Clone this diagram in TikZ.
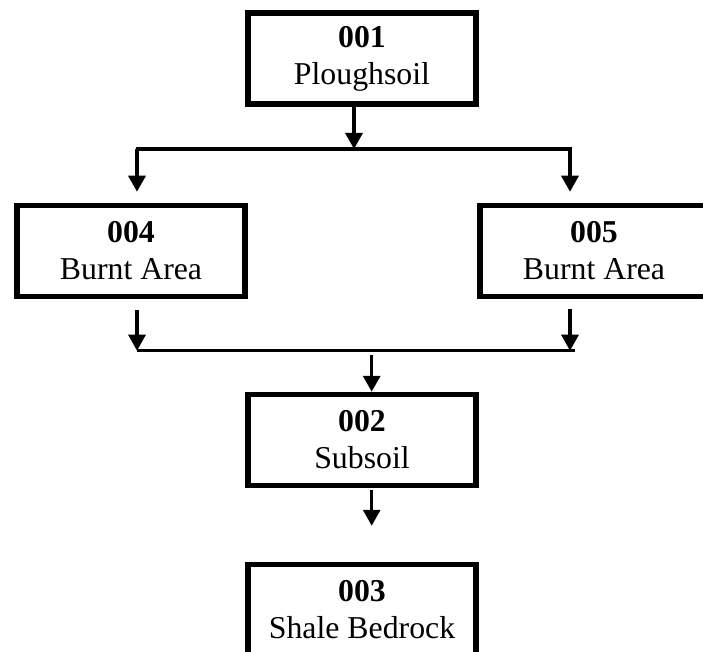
\documentclass[tikz,border=0pt]{standalone}
\usepackage{fontspec}
\setmainfont{Liberation Serif}
\usetikzlibrary{arrows.meta}

\begin{document}
\begin{tikzpicture}[x=1pt, y=1pt,
    unitbox/.style={draw, line width=5.5pt, minimum width=228pt, minimum height=91pt,
        inner sep=0pt, align=center, font=\fontsize{31.8}{37}\selectfont},
    flowarrow/.style={line width=3.2pt, -{Triangle[width=17pt,length=16pt]}},
    joinline/.style={line width=3.2pt}]
    \useasboundingbox (0,0) rectangle (703,-652);

    % the contexts
    \node[unitbox] (u001) at (362,-58.5) {\textbf{001}\\Ploughsoil};
    \node[unitbox] (u004) at (131,-251) {\textbf{004}\\Burnt Area};
    \node[unitbox] (u005) at (594,-251) {\textbf{005}\\Burnt Area};
    \node[unitbox] (u002) at (362,-440) {\textbf{002}\\Subsoil};
    \node[unitbox] (u003) at (362,-610) {\textbf{003}\\Shale Bedrock};

    % split below 001
    \coordinate (split) at (354,-149);
    \coordinate (splitL) at (135.5,-149);
    \coordinate (splitR) at (571.5,-149);
    \coordinate (toL) at (137,-149);
    \coordinate (toR) at (570,-149);
    \draw[joinline] (splitL) -- (splitR);
    \draw[flowarrow] (u001.south -| split) -- (split);
    \draw[flowarrow, shorten >=11pt] (toL) -- (toL |- u004.north);
    \draw[flowarrow, shorten >=11pt] (toR) -- (toR |- u005.north);

    % join above 002
    \coordinate (joinL) at (137,-350.7);
    \coordinate (joinR) at (575,-350.7);
    \coordinate (fromR) at (570,-350.7);
    \coordinate (join) at (371.7,-350.7);
    \draw[joinline] (joinL) -- (joinR);
    \draw[flowarrow, shorten <=11pt] (u004.south -| joinL) -- (joinL);
    \draw[flowarrow, shorten <=10pt] (u005.south -| fromR) -- (fromR);
    \draw[flowarrow, shorten <=4pt] (join) -- (join |- u002.north);

    % 002 to 003
    \draw[flowarrow, shorten <=2pt, shorten >=36pt] (u002.south -| join) -- (join |- u003.north);
\end{tikzpicture}
\end{document}
